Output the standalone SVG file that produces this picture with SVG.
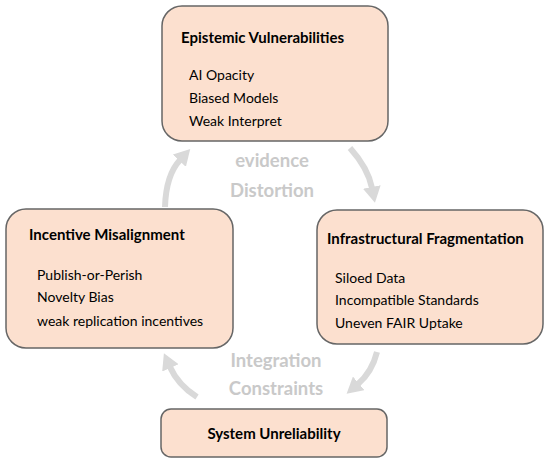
<svg xmlns="http://www.w3.org/2000/svg" width="550" height="464" viewBox="0 0 550 464">
<style>
.box{fill:#fce0cf;stroke:#666;stroke-width:1.5}
.t{font-family:Lato,"Liberation Sans",sans-serif;font-weight:bold;font-size:15px;fill:#000}
.i{font-family:Lato,"Liberation Sans",sans-serif;font-size:14px;fill:#000}
.g{font-family:Lato,"Liberation Sans",sans-serif;font-weight:bold;font-size:18.5px;fill:#c9c9c9;text-anchor:middle}
.arr{fill:none;stroke:#d9d9d9;stroke-width:6;marker-end:url(#ah)}
</style>
<defs>
<marker id="ah" viewBox="0 0 16 18" refX="1" refY="9" markerWidth="16" markerHeight="18" markerUnits="userSpaceOnUse" orient="auto">
<path d="M0,0 L16,9 L0,18 z" fill="#d9d9d9"/>
</marker>
</defs>
<rect width="550" height="464" fill="#fff"/>
<g id="connectors">
<path class="arr" d="M165,207 Q166,175 180,160"/>
<path class="arr" d="M350,148 Q368,168 372,188"/>
<path class="arr" d="M377,352 Q372,372 358,384"/>
<path class="arr" d="M197,397 Q178,385 170,367"/>
</g>
<g id="label-evidence">
<text class="g" x="272" y="167">evidence</text>
<text class="g" x="272" y="197">Distortion</text>
</g>
<g id="label-integration">
<text class="g" x="276" y="367">Integration</text>
<text class="g" x="276" y="395">Constraints</text>
</g>
<g id="epistemic">
<rect class="box" x="162" y="6" width="226" height="135" rx="20"/>
<text class="t" x="181" y="43">Epistemic Vulnerabilities</text>
<text class="i" x="189" y="80">AI Opacity</text>
<text class="i" x="189" y="103">Biased Models</text>
<text class="i" x="189" y="126">Weak Interpret</text>
</g>
<g id="incentive">
<rect class="box" x="6" y="209" width="227" height="139" rx="20"/>
<text class="t" x="29" y="240">Incentive Misalignment</text>
<text class="i" x="37" y="280">Publish-or-Perish</text>
<text class="i" x="37" y="302">Novelty Bias</text>
<text class="i" x="37" y="326">weak replication incentives</text>
</g>
<g id="infrastructural">
<rect class="box" x="317" y="210" width="226" height="134" rx="20"/>
<text class="t" x="327" y="244">Infrastructural Fragmentation</text>
<text class="i" x="335" y="283">Siloed Data</text>
<text class="i" x="335" y="305">Incompatible Standards</text>
<text class="i" x="335" y="328">Uneven FAIR Uptake</text>
</g>
<g id="system">
<rect class="box" x="161" y="409" width="226" height="48" rx="10"/>
<text class="t" x="274" y="439" text-anchor="middle">System Unreliability</text>
</g>
</svg>
